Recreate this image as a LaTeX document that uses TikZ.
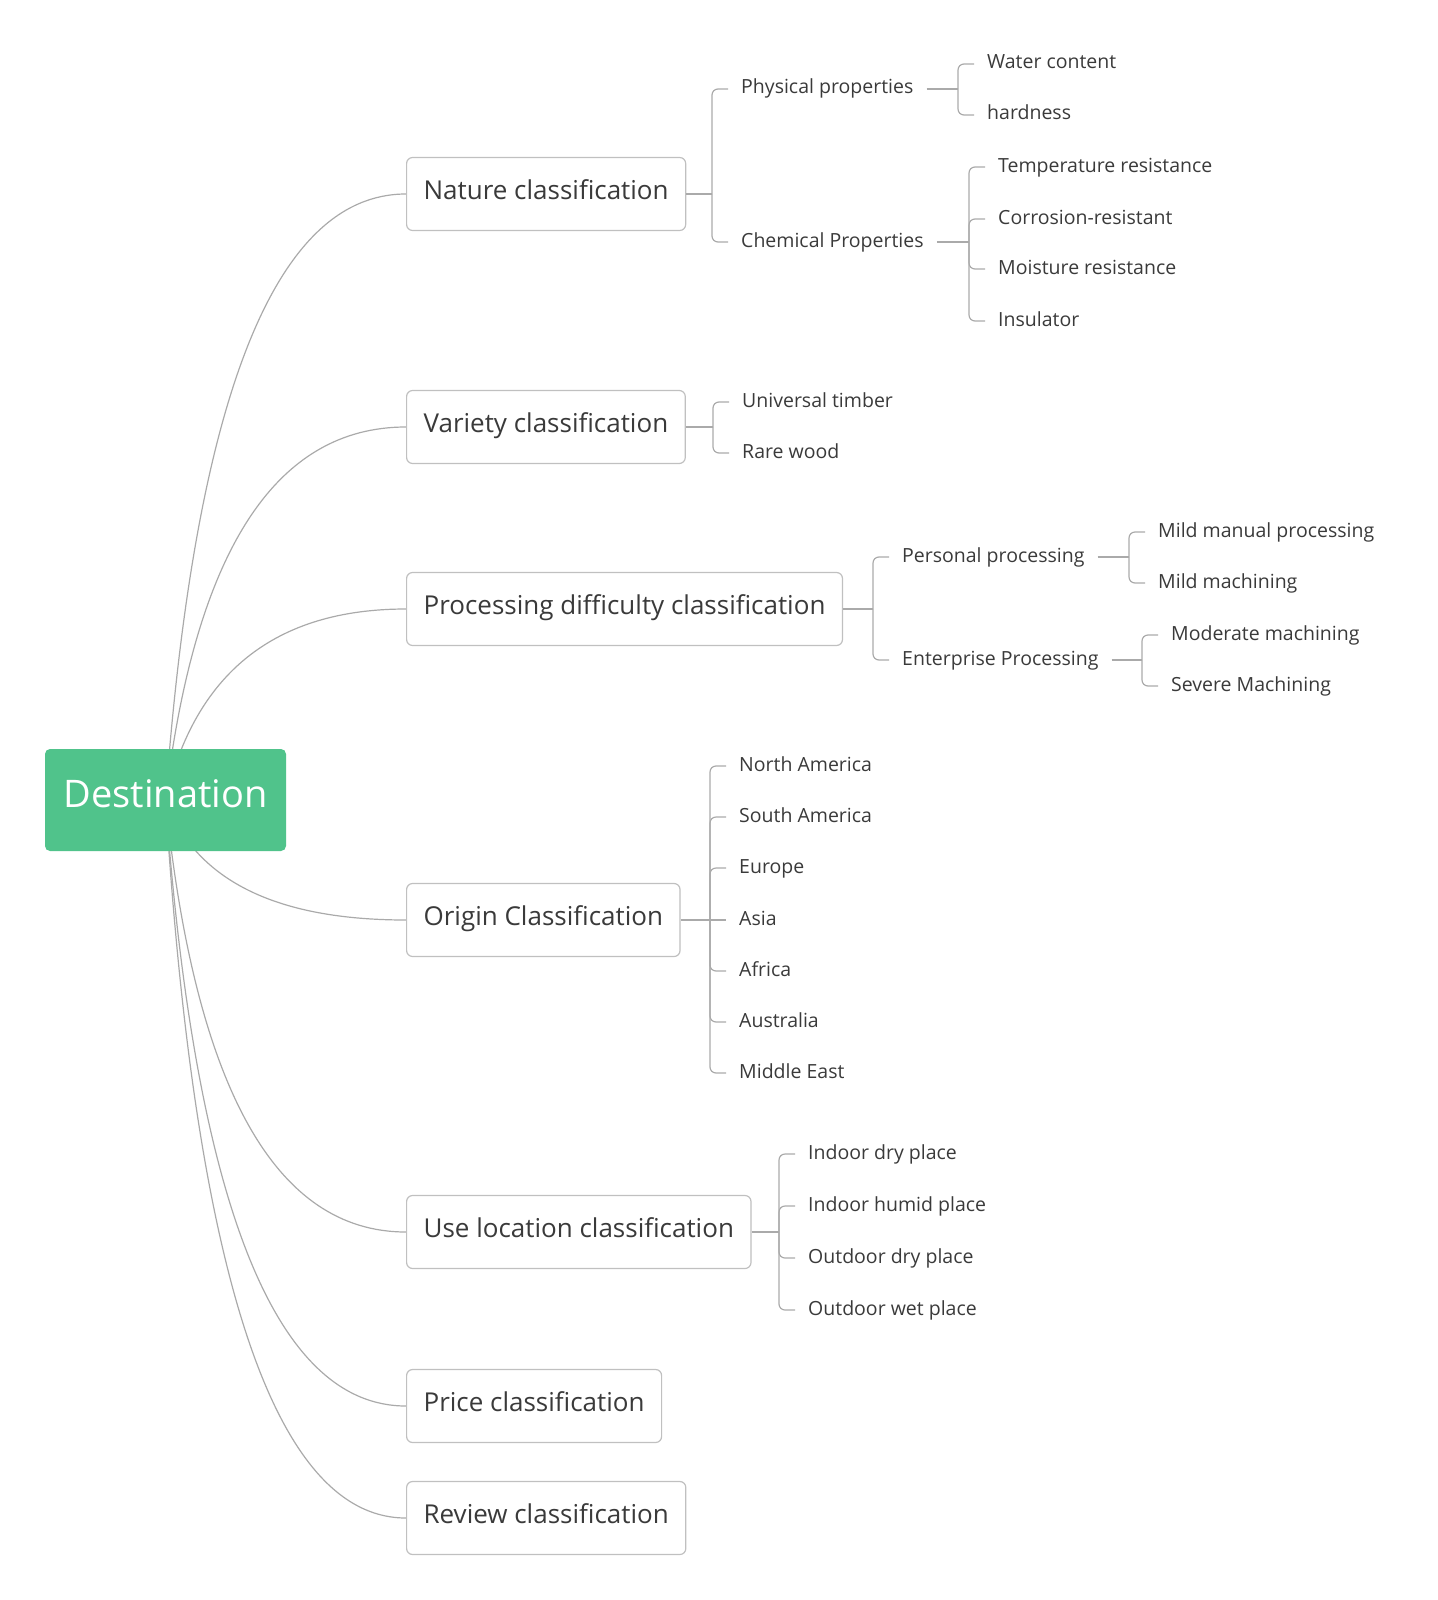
\documentclass[tikz,border=0pt]{standalone}
\usepackage{fontspec}
\setmainfont{Open Sans}
\usetikzlibrary{calc,backgrounds}
\definecolor{rootgreen}{RGB}{80,195,139}
\definecolor{linegray}{RGB}{170,170,170}
\definecolor{boxgray}{RGB}{192,192,192}
\definecolor{textgray}{RGB}{58,58,58}

\begin{document}
\begin{tikzpicture}[x=1pt,y=-1pt,
    root/.style={fill=rootgreen,rounded corners=5pt,text=white,inner sep=0pt,
      minimum width=241pt,minimum height=102pt,text height=27pt,text depth=13pt,
      font=\fontsize{38}{44}\selectfont},
    topic/.style={draw=boxgray,line width=1.2pt,fill=white,rounded corners=6pt,anchor=west,
      inner xsep=17pt,inner ysep=0pt,minimum height=73pt,text height=18pt,text depth=7pt,
      font=\fontsize{26}{30}\selectfont},
    leaf/.style={anchor=west,inner xsep=13pt,inner ysep=0pt,text height=14pt,text depth=4pt,
      font=\fontsize{19.5}{23}\selectfont},
    branch/.style={draw=linegray,line width=1.2pt},
    twig/.style={branch,rounded corners=6pt},
    spoke/.style={branch,to path={.. controls ($(\tikztostart)!2/3!(\tikztotarget -| ctl)$)
      and ($(\tikztotarget)!2/3!(\tikztotarget -| ctl)$) .. (\tikztotarget)}}]
  \tikzstyle{every node}+=[text=textgray]
  \useasboundingbox (0,0) rectangle (1437,1600);
  \coordinate (ctl) at (210,0);
  \node[root] (root) at (165.5,800) {Destination};
  \node[topic] (nat) at (406,194) {Nature classification};
  \node[topic] (var) at (406,427) {Variety classification};
  \node[topic] (proc) at (406,609) {Processing difficulty classification};
  \node[topic] (orig) at (406,920) {Origin Classification};
  \node[topic] (use) at (406,1232) {Use location classification};
  \node[topic] (price) at (406,1406) {Price classification};
  \node[topic] (rev) at (406,1518) {Review classification};
  \coordinate (natj) at (712,194);
  \node[leaf] (pp) at (728,89) {Physical properties};
  \node[leaf] (cp) at (728,242) {Chemical Properties};
  \coordinate (ppj) at (958,89);
  \node[leaf] (wc) at (974,64) {Water content};
  \node[leaf] (hd) at (974,115) {hardness};
  \coordinate (cpj) at (969,242);
  \node[leaf] (tr) at (985,167) {Temperature resistance};
  \node[leaf] (cr) at (985,219) {Corrosion-resistant};
  \node[leaf] (mr) at (985,269) {Moisture resistance};
  \node[leaf] (ins) at (985,321) {Insulator};
  \coordinate (varj) at (713,427);
  \node[leaf] (ut) at (729,402) {Universal timber};
  \node[leaf] (rw) at (729,453) {Rare wood};
  \coordinate (procj) at (873,609);
  \node[leaf] (per) at (889,557) {Personal processing};
  \node[leaf] (ent) at (889,660) {Enterprise Processing};
  \coordinate (perj) at (1129,557);
  \node[leaf] (mmp) at (1145,532) {Mild manual processing};
  \node[leaf] (mm) at (1145,583) {Mild machining};
  \coordinate (entj) at (1142,660);
  \node[leaf] (mod) at (1158,635) {Moderate machining};
  \node[leaf] (sev) at (1158,686) {Severe Machining};
  \coordinate (origj) at (710,920);
  \node[leaf] (na) at (726,766) {North America};
  \node[leaf] (sa) at (726,817) {South America};
  \node[leaf] (eu) at (726,868) {Europe};
  \node[leaf] (asia) at (726,920) {Asia};
  \node[leaf] (af) at (726,971) {Africa};
  \node[leaf] (au) at (726,1022) {Australia};
  \node[leaf] (me) at (726,1073) {Middle East};
  \coordinate (usej) at (779,1232);
  \node[leaf] (idp) at (795,1154) {Indoor dry place};
  \node[leaf] (ihp) at (795,1206) {Indoor humid place};
  \node[leaf] (odp) at (795,1258) {Outdoor dry place};
  \node[leaf] (owp) at (795,1310) {Outdoor wet place};
  \begin{scope}[on background layer]
    \draw[spoke] (root.center) to (nat.west);
    \draw[spoke] (root.center) to (var.west);
    \draw[spoke] (root.center) to (proc.west);
    \draw[spoke] (root.center) to (orig.west);
    \draw[spoke] (root.center) to (use.west);
    \draw[spoke] (root.center) to (price.west);
    \draw[spoke] (root.center) to (rev.west);
  \end{scope}
  \draw[branch] (nat.east) -- (natj);
  \draw[twig] (natj) |- (pp.west);
  \draw[twig] (natj) |- (cp.west);
  \draw[branch] (pp.east) -- (ppj);
  \draw[twig] (ppj) |- (wc.west);
  \draw[twig] (ppj) |- (hd.west);
  \draw[branch] (cp.east) -- (cpj);
  \draw[twig] (cpj) |- (tr.west);
  \draw[twig] (cpj) |- (cr.west);
  \draw[twig] (cpj) |- (mr.west);
  \draw[twig] (cpj) |- (ins.west);
  \draw[branch] (var.east) -- (varj);
  \draw[twig] (varj) |- (ut.west);
  \draw[twig] (varj) |- (rw.west);
  \draw[branch] (proc.east) -- (procj);
  \draw[twig] (procj) |- (per.west);
  \draw[twig] (procj) |- (ent.west);
  \draw[branch] (per.east) -- (perj);
  \draw[twig] (perj) |- (mmp.west);
  \draw[twig] (perj) |- (mm.west);
  \draw[branch] (ent.east) -- (entj);
  \draw[twig] (entj) |- (mod.west);
  \draw[twig] (entj) |- (sev.west);
  \draw[branch] (orig.east) -- (origj);
  \draw[twig] (origj) |- (na.west);
  \draw[twig] (origj) |- (sa.west);
  \draw[twig] (origj) |- (eu.west);
  \draw[branch] (origj) -- (asia.west);
  \draw[twig] (origj) |- (af.west);
  \draw[twig] (origj) |- (au.west);
  \draw[twig] (origj) |- (me.west);
  \draw[branch] (use.east) -- (usej);
  \draw[twig] (usej) |- (idp.west);
  \draw[twig] (usej) |- (ihp.west);
  \draw[twig] (usej) |- (odp.west);
  \draw[twig] (usej) |- (owp.west);
\end{tikzpicture}
\end{document}
